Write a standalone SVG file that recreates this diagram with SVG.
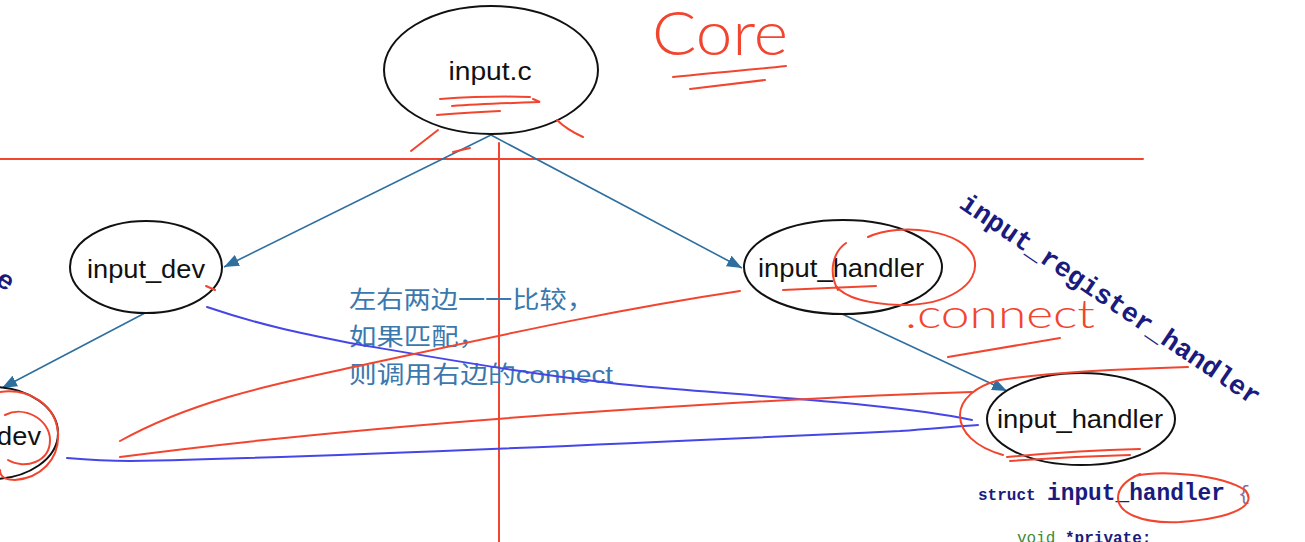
<svg xmlns="http://www.w3.org/2000/svg" width="1305" height="542" viewBox="0 0 1305 542">
<style>
.node{fill:#fff;stroke:#111;stroke-width:2}
.lbl{font-family:"Liberation Sans",Arial,sans-serif;font-size:25px;fill:#111;text-anchor:middle}
.conn{stroke:#2e6fa0;stroke-width:1.6;fill:none;marker-end:url(#ah)}
.red{stroke:#f2452f;stroke-width:2;fill:none;stroke-linecap:round}
.vio{stroke:#4646e8;stroke-width:2;fill:none;stroke-linecap:round}
.cn{font-family:"Liberation Sans","Noto Sans CJK SC",sans-serif;font-size:24px;fill:#3b78ad}
.mono{font-family:"Liberation Mono","DejaVu Sans Mono",monospace;font-weight:bold;fill:#1b1b7d}
.hand{font-family:Lato,"Open Sans","Liberation Sans",sans-serif;font-weight:300;fill:#f2452f}
</style>
<defs>
<marker id="ah" markerUnits="userSpaceOnUse" markerWidth="16" markerHeight="12" refX="15" refY="6" orient="auto">
<path d="M0,0 L15,6 L0,12 Z" fill="#2e6fa0"/>
</marker>
</defs>
<rect width="1305" height="542" fill="#fff"/>
<g id="guides">
<line x1="0" y1="159" x2="1143" y2="159" class="red" stroke-width="1.6"/>
<line x1="499" y1="143" x2="499" y2="542" class="red" stroke-width="1.6"/>
</g>
<g id="connectors">
<line x1="491" y1="135" x2="224" y2="267" class="conn"/>
<line x1="491" y1="135" x2="742" y2="268" class="conn"/>
<line x1="145" y1="313" x2="2" y2="388" class="conn"/>
<line x1="840" y1="313" x2="1007" y2="391" class="conn"/>
</g>
<g id="node-input-c">
<ellipse cx="491" cy="70" rx="107" ry="64" class="node"/>
<text x="490" y="80" class="lbl" textLength="83" lengthAdjust="spacingAndGlyphs">input.c</text>
</g>
<g id="node-input-dev">
<ellipse cx="146" cy="267" rx="76" ry="46" class="node"/>
<text x="146" y="278" class="lbl" textLength="118" lengthAdjust="spacingAndGlyphs">input_dev</text>
</g>
<g id="node-input-handler-top">
<ellipse cx="843" cy="267" rx="99" ry="47" class="node"/>
<text x="841" y="277" class="lbl" textLength="166" lengthAdjust="spacingAndGlyphs">input_handler</text>
</g>
<g id="node-input-dev-2">
<ellipse cx="-8" cy="433" rx="66" ry="46" class="node"/>
<text x="41" y="445" class="lbl" style="text-anchor:end" textLength="118" lengthAdjust="spacingAndGlyphs">input_dev</text>
</g>
<g id="node-input-handler-2">
<ellipse cx="1081" cy="419" rx="94" ry="46" class="node"/>
<text x="1080" y="428" class="lbl" textLength="166" lengthAdjust="spacingAndGlyphs">input_handler</text>
</g>
<g id="note">
<text x="349" y="308" class="cn" textLength="245" lengthAdjust="spacingAndGlyphs">左右两边一一比较，</text>
<text x="349" y="345" class="cn" textLength="137" lengthAdjust="spacingAndGlyphs">如果匹配，</text>
<text x="349" y="383" class="cn" textLength="264" lengthAdjust="spacingAndGlyphs">则调用右边的connect</text>
</g>
<g id="code">
<text class="mono" font-size="27" transform="translate(958,207) rotate(34)" textLength="356" lengthAdjust="spacingAndGlyphs">input_register_handler</text>
<text class="mono" font-size="27" transform="translate(-6,283) rotate(34)">e</text>
<text x="978" y="500" class="mono" font-size="16">struct</text>
<text x="1047" y="500" class="mono" font-size="23" textLength="178" lengthAdjust="spacingAndGlyphs">input_handler</text>
<text x="1238" y="500" font-family="Liberation Mono,monospace" font-size="20" fill="#8070a0">{</text>
<text x="1017" y="543" font-family="Liberation Mono,monospace" font-size="16" fill="#3a8a3a">void</text>
<text x="1065" y="543" class="mono" font-size="16">*private;</text>
</g>
<g id="blue-annotations">
<path class="vio" d="M207,307 C260,325 300,333 350,343 C450,360 550,378 650,387 C780,398 900,405 972,420"/>
<path class="vio" d="M67,458 C90,460 110,461 130,461 C300,458 600,445 900,431 C940,428 960,426 978,425"/>
</g>
<g id="red-annotations">
<text x="652" y="55" class="hand" font-size="62" textLength="136" lengthAdjust="spacingAndGlyphs">Core</text>
<path class="red" d="M673,77 C710,73 750,70 786,66"/>
<path class="red" d="M690,89 C715,86 740,83 765,80"/>
<path class="red" d="M440,99 C470,97 500,96 530,97"/>
<path class="red" d="M452,106 C480,104 510,103 540,102 L533,99"/>
<path class="red" d="M437,115 C460,113 480,112 500,111"/>
<path class="red" d="M411,151 L438,130"/>
<path class="red" d="M557,120 C565,128 572,132 583,137"/>
<path class="red" d="M453,152 L470,148"/>
<path class="red" d="M206,286 L215,290"/>
<path class="red" d="M783,290 C810,289 850,287 876,286"/>
<path class="red" d="M846,243 C833,252 828,272 838,290"/>
<path class="red" d="M868,237 C900,222 965,230 974,258 C982,285 945,306 900,305 C870,304 845,298 836,286"/>
<text x="905" y="328" class="hand" font-size="40" textLength="190" lengthAdjust="spacingAndGlyphs">.connect</text>
<path class="red" d="M948,357 C990,350 1030,343 1060,338"/>
<path class="red" d="M120,441 C190,402 270,385 340,370 C480,340 600,312 740,291"/>
<path class="red" d="M120,457 C250,440 450,420 700,405 C800,399 900,394 972,392"/>
<path class="red" d="M1188,367 C1120,369 1050,372 1000,380 C975,386 960,400 960,415 C960,432 975,447 1003,455"/>
<path class="red" d="M1007,457 C1050,453 1100,450 1140,449"/>
<path class="red" d="M1010,461 C1050,458 1090,456 1130,455"/>
<path class="red" d="M1135,476 C1160,470 1220,474 1245,490 C1258,505 1235,518 1180,522 C1140,524 1118,512 1118,498 C1118,488 1126,480 1140,474"/>
<path class="red" d="M0,392 C30,388 55,405 58,432 C60,460 40,478 15,480 C5,480 0,476 0,470"/>
<path class="red" d="M5,415 C25,405 50,420 50,440 C50,462 25,470 8,460"/>
</g>
</svg>
